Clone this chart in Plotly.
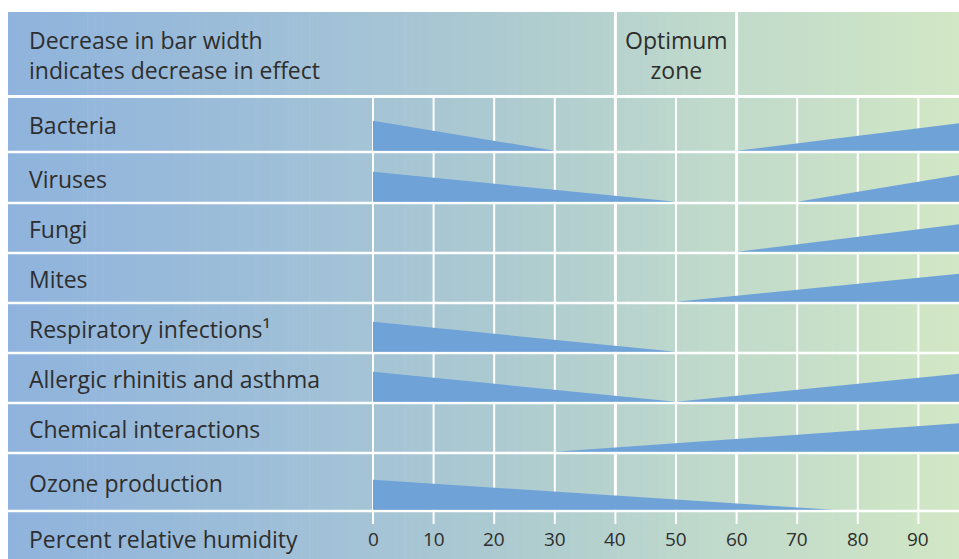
import plotly.graph_objects as go

# ---------------- data ----------------
categories = ["Bacteria", "Viruses", "Fungi", "Mites", "Respiratory infections¹",
              "Allergic rhinitis and asthma", "Chemical interactions", "Ozone production"]
# decreasing effect: full at start, zero at end (percent RH)
decrease_start = [0, 0, None, None, 0, 0, None, 0]
decrease_end = [30, 50, None, None, 50, 50, None, 76]
# increasing effect: zero at start, full at end (percent RH)
increase_start = [60, 70, 60, 50, None, 50, 30, None]
increase_end = [100, 100, 100, 100, None, 100, 100, None]

tick_values = [0, 10, 20, 30, 40, 50, 60, 70, 80, 90]
tick_labels = ["0", "10", "20", "30", "40", "50", "60", "70", "80", "90"]
optimum_zone = [40, 60]

header_text = "Decrease in bar width<br>indicates decrease in effect"
optimum_text = "Optimum<br>zone"
axis_title = "Percent relative humidity"

# ---------------- layout constants (styles, in page pixels) ----------------
W, H = 959, 559
OFF = 0                      # page body margin (set to 0 below)
X0_PX, PX_PER_UNIT = 373, 6.06
x_range = [(OFF - X0_PX) / PX_PER_UNIT, (W + OFF - X0_PX) / PX_PER_UNIT]
LEFT_PX, TOP_PX = 8, 12
header_bottom = 96.5
row_seps = [152, 203, 253, 303, 353, 403, 453, 511]
row_tops = [header_bottom] + row_seps[:-1]
BAR_H = 30
BAR_COLOR = "#6fa3d8"
TEXT_COLOR = "#2e2e2e"
FONT = "Open Sans"


def px_paper(px):
    return (px - OFF) / W


stops = [(8, (143, 179, 220)), (300, (160, 192, 216)), (500, (172, 202, 208)),
         (690, (190, 216, 204)), (959, (209, 231, 197))]


def grad_color(px):
    for (a, ca), (b, cb) in zip(stops[:-1], stops[1:]):
        if a <= px <= b:
            t = (px - a) / (b - a)
            return "rgb(%d,%d,%d)" % tuple(round(ca[i] + (cb[i] - ca[i]) * t) for i in range(3))
    return "rgb(%d,%d,%d)" % stops[-1][1]


fig = go.Figure()
shapes = []

# gradient background
N = 120
RIGHT_PX = W + OFF
for i in range(N):
    xa = LEFT_PX + (RIGHT_PX - LEFT_PX) * i / N
    xb = LEFT_PX + (RIGHT_PX - LEFT_PX) * (i + 1) / N + 0.6
    shapes.append(dict(type="rect", xref="paper", yref="y", x0=px_paper(xa), x1=min(px_paper(xb), 1.0),
                       y0=TOP_PX, y1=H + OFF, fillcolor=grad_color((xa + xb) / 2),
                       line=dict(width=0), layer="below"))

# vertical grid lines inside data rows and ticks in the axis row
for v in tick_values:
    w = 3 if v in optimum_zone else 2
    shapes.append(dict(type="line", xref="x", yref="y", x0=v, x1=v, y0=header_bottom, y1=row_seps[-1],
                       line=dict(color="white", width=w), layer="below"))
    shapes.append(dict(type="line", xref="x", yref="y", x0=v, x1=v, y0=row_seps[-1], y1=row_seps[-1] + 13,
                       line=dict(color="white", width=2), layer="below"))
# header boundaries for the optimum zone
for v in optimum_zone:
    shapes.append(dict(type="line", xref="x", yref="y", x0=v, x1=v, y0=TOP_PX, y1=header_bottom,
                       line=dict(color="white", width=3), layer="below"))
# horizontal separators
shapes.append(dict(type="line", xref="paper", yref="y", x0=px_paper(LEFT_PX), x1=1, y0=header_bottom,
                   y1=header_bottom, line=dict(color="white", width=3), layer="below"))
for s in row_seps:
    shapes.append(dict(type="line", xref="paper", yref="y", x0=px_paper(LEFT_PX), x1=1, y0=s, y1=s,
                       line=dict(color="white", width=2.5), layer="below"))

# wedge bars
for i, cat in enumerate(categories):
    base = row_seps[i] - 1.2
    if decrease_start[i] is not None:
        a, b = decrease_start[i], decrease_end[i]
        fig.add_trace(go.Scatter(x=[a, a, b, a], y=[base, base - BAR_H, base, base],
                                 fill="toself", fillcolor=BAR_COLOR, mode="lines",
                                 line=dict(width=0, color=BAR_COLOR), hoverinfo="skip",
                                 showlegend=False, name=cat))
    if increase_start[i] is not None:
        a, b = increase_start[i], increase_end[i]
        fig.add_trace(go.Scatter(x=[a, b, b, a], y=[base, base - BAR_H, base, base],
                                 fill="toself", fillcolor=BAR_COLOR, mode="lines",
                                 line=dict(width=0, color=BAR_COLOR), hoverinfo="skip",
                                 showlegend=False, name=cat))

annotations = []
font = dict(family=FONT, size=23, color=TEXT_COLOR)
for i, cat in enumerate(categories):
    yc = (row_tops[i] + row_seps[i]) / 2 + 1
    annotations.append(dict(text=cat, xref="paper", yref="y", x=px_paper(27), y=yc,
                            xanchor="left", yanchor="middle", showarrow=False, font=font))
annotations.append(dict(text=header_text, xref="paper", yref="y", x=px_paper(27), y=(TOP_PX + header_bottom) / 2 + 1,
                        xanchor="left", yanchor="middle", align="left", showarrow=False, font=font))
annotations.append(dict(text=optimum_text, xref="x", yref="y", x=sum(optimum_zone) / 2,
                        y=(TOP_PX + header_bottom) / 2 + 1, xanchor="center", yanchor="middle",
                        align="center", showarrow=False, font=font))
annotations.append(dict(text=axis_title, xref="paper", yref="y", x=px_paper(27), y=539,
                        xanchor="left", yanchor="middle", showarrow=False, font=font))
for v, lab in zip(tick_values, tick_labels):
    annotations.append(dict(text=lab, xref="x", yref="y", x=v, y=539, xanchor="center", yanchor="middle",
                            showarrow=False, font=dict(family=FONT, size=19, color=TEXT_COLOR)))

fig.update_layout(
    width=W, height=H, autosize=False,
    margin=dict(l=0, r=0, t=0, b=0, pad=0),
    paper_bgcolor="white", plot_bgcolor="white",
    xaxis=dict(range=x_range, visible=False, fixedrange=True),
    yaxis=dict(range=[H + OFF, OFF], visible=False, fixedrange=True),
    shapes=shapes, annotations=annotations, showlegend=False,
)

fig.write_html("out.html", config={"displayModeBar": False, "staticPlot": True},
               post_script="document.body.style.margin='0';"
                           "document.documentElement.style.overflow='hidden';")
